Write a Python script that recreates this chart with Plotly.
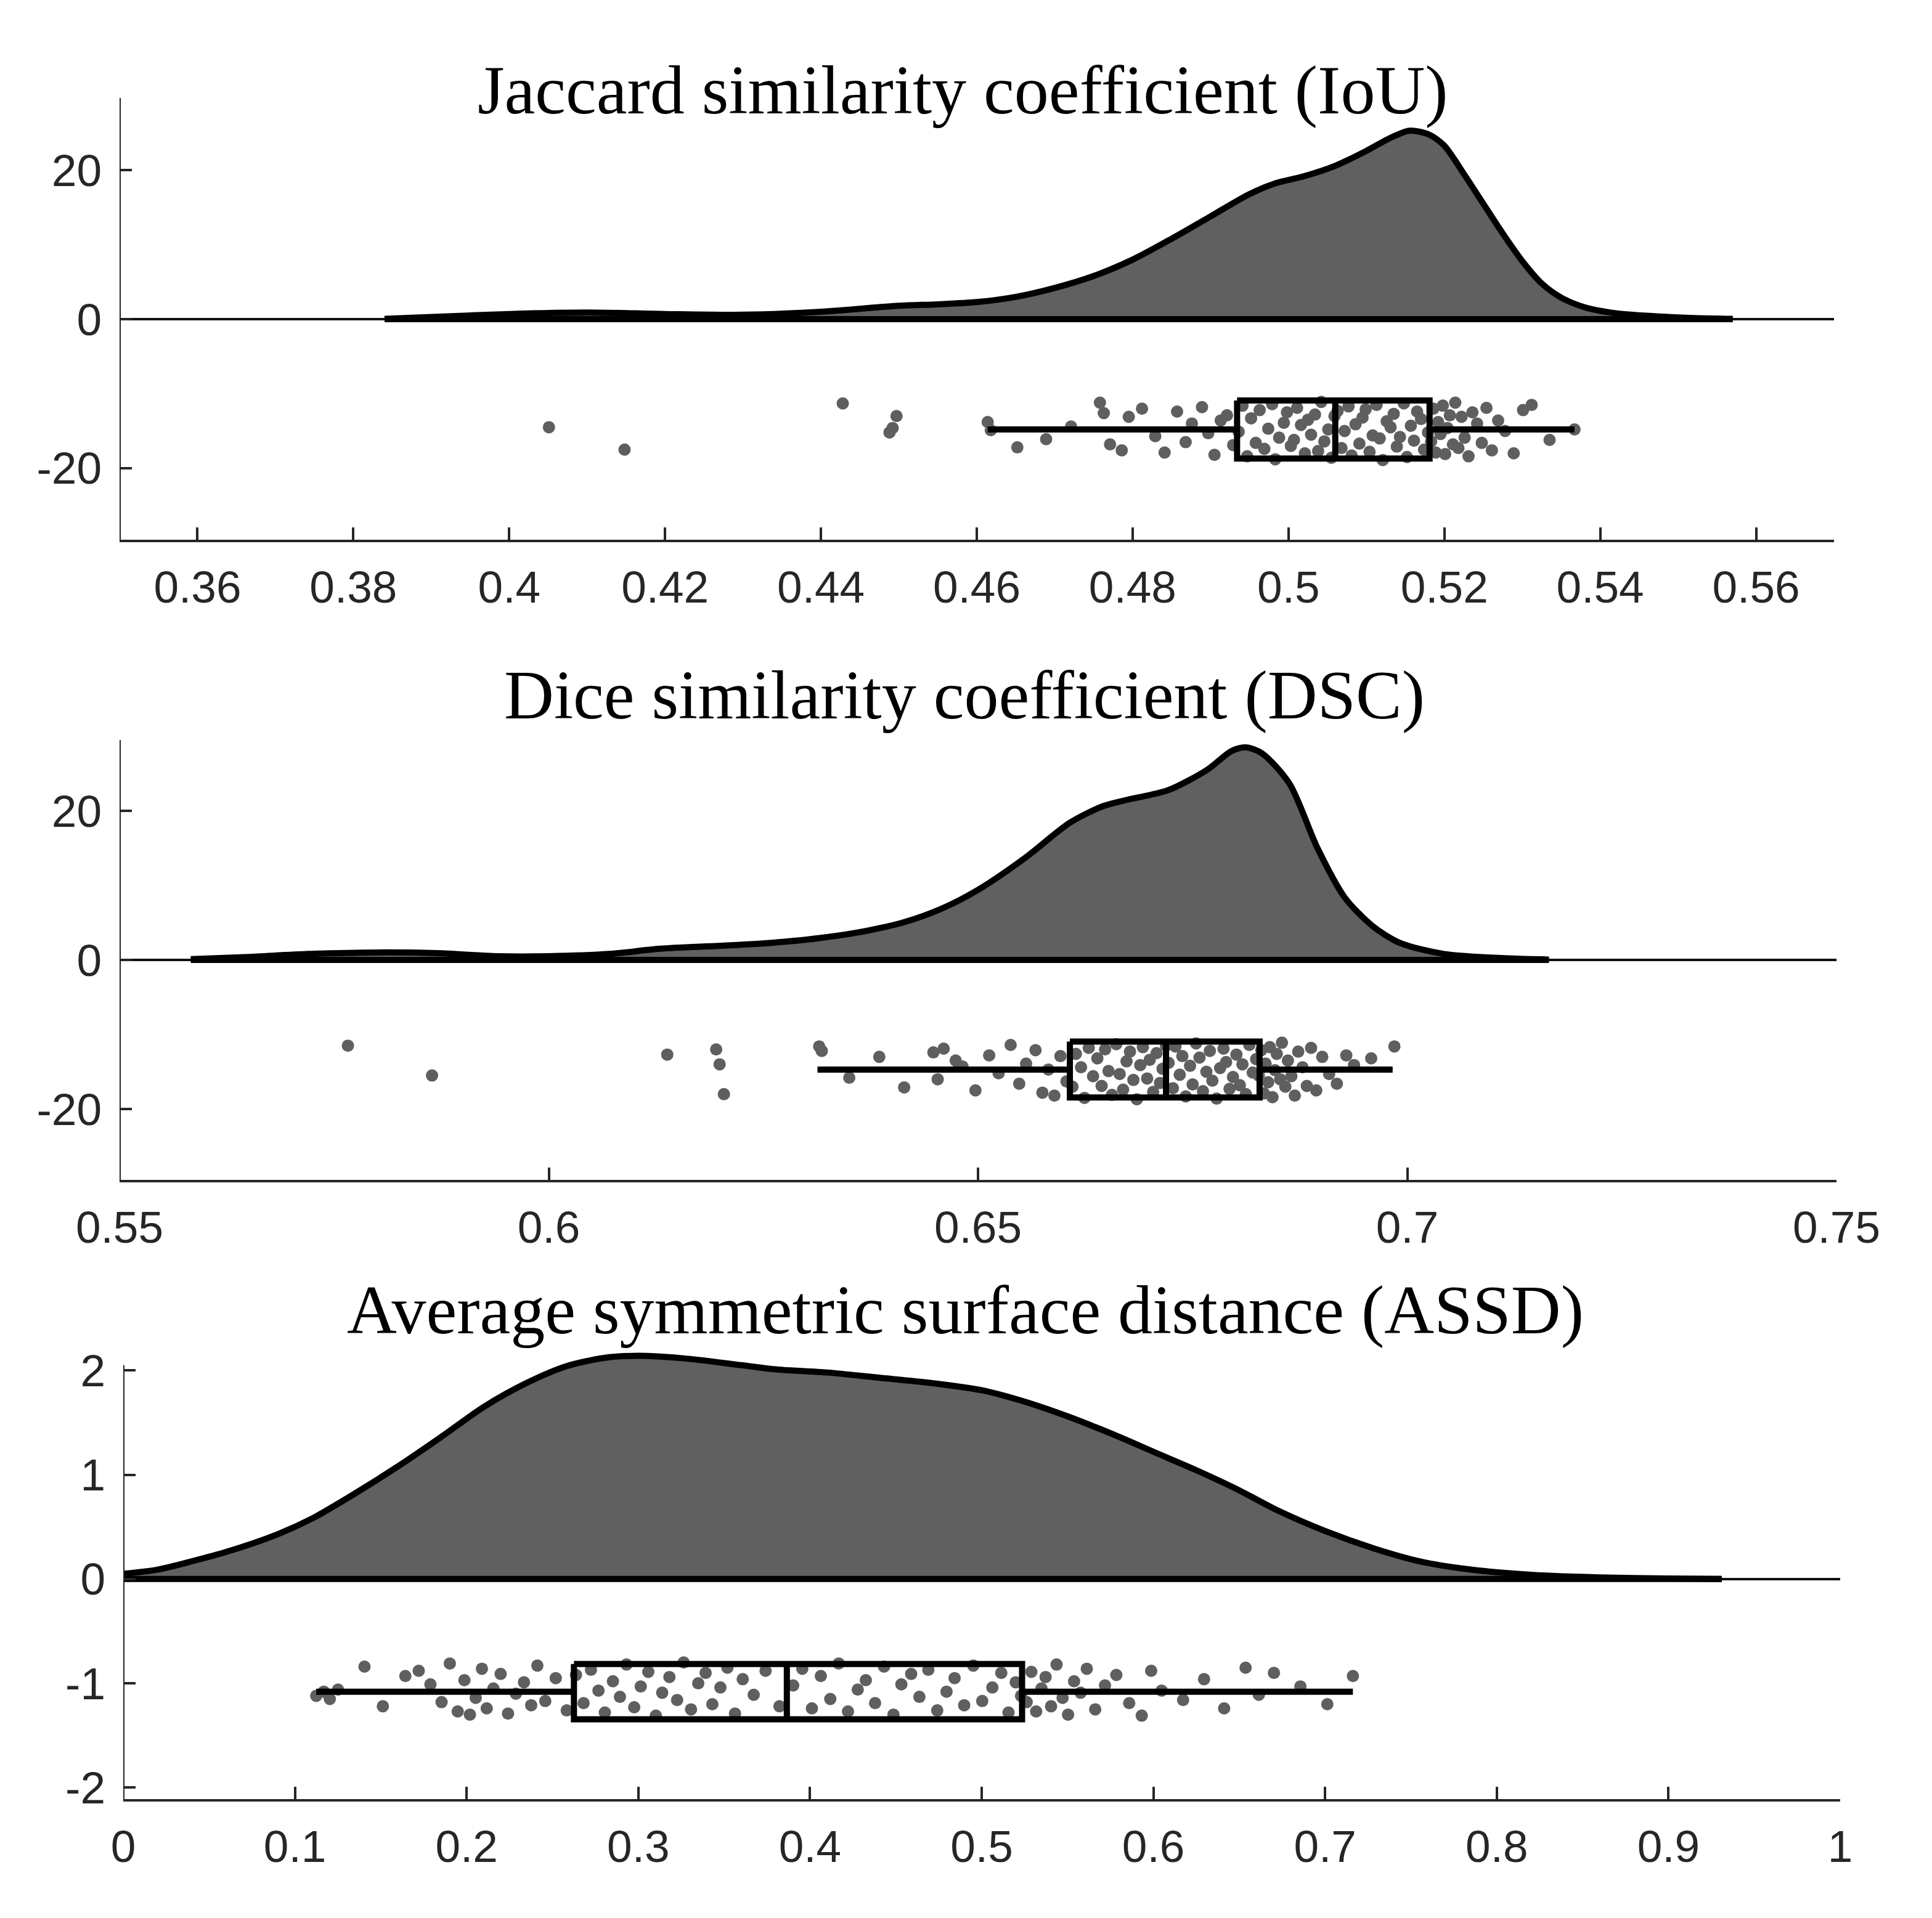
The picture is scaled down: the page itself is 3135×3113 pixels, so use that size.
import plotly.graph_objects as go

# ------------------------------------------------------------------ data
titles = ["Jaccard similarity coefficient (IoU)",
          "Dice similarity coefficient (DSC)",
          "Average symmetric surface distance (ASSD)"]

# x tick values / labels
iou_ticks = [0.36, 0.38, 0.40, 0.42, 0.44, 0.46, 0.48, 0.50, 0.52, 0.54, 0.56]
iou_ticktext = ["0.36", "0.38", "0.4", "0.42", "0.44", "0.46", "0.48", "0.5", "0.52", "0.54", "0.56"]
dsc_ticks = [0.55, 0.60, 0.65, 0.70, 0.75]
dsc_ticktext = ["0.55", "0.6", "0.65", "0.7", "0.75"]
assd_ticks = [0, 0.1, 0.2, 0.3, 0.4, 0.5, 0.6, 0.7, 0.8, 0.9, 1.0]
assd_ticktext = ["0", "0.1", "0.2", "0.3", "0.4", "0.5", "0.6", "0.7", "0.8", "0.9", "1"]
# y tick values / labels
big_yticks = [-20, 0, 20]
big_yticktext = ["-20", "0", "20"]
small_yticks = [-2, -1, 0, 1, 2]
small_yticktext = ["-2", "-1", "0", "1", "2"]

# density curves
iou_kde_x = [0.384, 0.390, 0.400, 0.410, 0.420, 0.430, 0.440, 0.450, 0.455, 0.460,
             0.465, 0.470, 0.475, 0.480, 0.485, 0.490, 0.495, 0.4985, 0.502, 0.506,
             0.510, 0.513, 0.5155, 0.518, 0.520, 0.5225, 0.525, 0.5275, 0.530, 0.5325,
             0.535, 0.538, 0.542, 0.547, 0.552, 0.557]
iou_kde_y = [0.05, 0.3, 0.7, 0.9, 0.7, 0.6, 1.0, 1.8, 2.0, 2.3,
             3.0, 4.2, 5.8, 8.0, 10.8, 13.8, 16.8, 18.3, 19.2, 20.6,
             22.6, 24.3, 25.3, 24.8, 23.3, 19.5, 15.5, 11.5, 7.8, 4.8,
             2.9, 1.6, 0.8, 0.4, 0.15, 0.05]

dsc_kde_x = [0.5583, 0.565, 0.572, 0.580, 0.587, 0.594, 0.600, 0.607, 0.613, 0.620,
             0.626, 0.632, 0.637, 0.6415, 0.646, 0.650, 0.6555, 0.6607, 0.6645, 0.6671,
             0.6722, 0.6767, 0.6795, 0.6812, 0.6831, 0.6863, 0.6895, 0.6927, 0.6959, 0.6991,
             0.7043, 0.712, 0.7165]
dsc_kde_y = [0.1, 0.4, 0.8, 1.0, 0.9, 0.5, 0.5, 0.8, 1.5, 1.9,
             2.3, 3.0, 3.9, 5.1, 7.0, 9.4, 13.7, 18.4, 20.6, 21.4,
             22.8, 25.5, 28.0, 28.5, 27.7, 23.6, 15.1, 8.4, 4.6, 2.3,
             0.8, 0.2, 0.05]

assd_kde_x = [0.0, 0.02, 0.04, 0.06, 0.09, 0.11, 0.133, 0.16, 0.185, 0.21,
              0.235, 0.258, 0.28, 0.30, 0.33, 0.36, 0.38, 0.41, 0.44, 0.47,
              0.50, 0.523, 0.55, 0.579, 0.60, 0.624, 0.65, 0.672, 0.70, 0.729,
              0.755, 0.785, 0.82, 0.86, 0.90, 0.931]
assd_kde_y = [0.05, 0.09, 0.17, 0.26, 0.43, 0.58, 0.80, 1.08, 1.36, 1.65,
              1.88, 2.04, 2.12, 2.14, 2.11, 2.05, 2.01, 1.98, 1.93, 1.88,
              1.81, 1.71, 1.56, 1.37, 1.22, 1.05, 0.85, 0.66, 0.46, 0.29,
              0.17, 0.09, 0.04, 0.015, 0.005, 0.0]

# individual observations (x) and their vertical jitter (y)
iou_points = [0.4051, 0.4148, 0.4428, 0.4488, 0.4492, 0.4497,
              0.4614, 0.4618, 0.4652, 0.4689, 0.4721, 0.4758, 0.4763, 0.4771, 0.4786, 0.4795,
              0.4812, 0.4829, 0.4841, 0.4857, 0.4868, 0.4876, 0.4889, 0.4897, 0.4905, 0.4913,
              0.4921, 0.4929,
              0.4936, 0.4941, 0.4947, 0.4952, 0.4958, 0.4963, 0.4969, 0.4974, 0.4979, 0.4983,
              0.4988, 0.4994, 0.4998, 0.5003, 0.5007, 0.5011, 0.5016, 0.5021, 0.5025, 0.5029,
              0.5034, 0.5038, 0.5042, 0.5046, 0.5051, 0.5055, 0.5059,
              0.5063, 0.5068, 0.5072, 0.5077, 0.5081, 0.5086, 0.5091, 0.5095, 0.5099, 0.5104,
              0.5108, 0.5113, 0.5117, 0.5121, 0.5126, 0.5131, 0.5135, 0.5139, 0.5143, 0.5148,
              0.5152, 0.5157, 0.5161, 0.5165, 0.5170, 0.5174, 0.5179,
              0.5183, 0.5186, 0.5189, 0.5192, 0.5195, 0.5198, 0.5201, 0.5204, 0.5207, 0.5211,
              0.5214, 0.5218, 0.5222, 0.5226, 0.5231, 0.5236, 0.5242, 0.5248, 0.5254, 0.5261,
              0.5269, 0.5278, 0.5289, 0.5301, 0.5312, 0.5335, 0.5367]
iou_jitter = [-14.5, -17.5, -11.3, -15.2, -14.6, -13.0,
              -13.8, -14.9, -17.2, -16.1, -14.4, -11.2, -12.6, -16.8, -17.6, -13.1,
              -12.0, -15.7, -17.9, -12.4, -16.5, -14.0, -11.8, -15.3, -18.2, -13.6,
              -12.9, -16.9,
              -15.1, -11.6, -18.4, -13.3, -16.6, -12.2, -17.4, -14.7, -11.4, -18.8,
              -15.9, -13.9, -12.5, -17.0, -16.2, -11.9, -14.2, -18.0, -13.5, -15.5,
              -12.8, -17.7, -11.1, -16.4, -14.8, -18.6, -13.0,
              -12.3, -17.3, -15.0, -11.7, -18.3, -14.1, -16.7, -13.2, -12.1, -17.8,
              -15.6, -11.5, -16.0, -18.9, -13.7, -14.5, -12.7, -17.1, -15.8, -11.3,
              -18.5, -14.3, -16.3, -12.4, -13.4, -17.5, -15.2,
              -16.4, -12.0, -17.9, -13.8, -15.4, -11.6, -18.1, -14.6, -12.9, -16.8,
              -11.2, -17.3, -13.1, -15.9, -18.4, -12.5, -14.0, -16.6, -11.9, -17.6,
              -13.6, -15.0, -18.0, -12.2, -11.5, -16.2, -14.8]

dsc_points = [0.5766, 0.5864, 0.6138, 0.6195, 0.6199, 0.6204,
              0.6315, 0.6318, 0.6350, 0.6385, 0.6414, 0.6448, 0.6453, 0.6460, 0.6474, 0.6482,
              0.6497, 0.6513, 0.6524, 0.6538, 0.6548, 0.6556, 0.6567, 0.6575, 0.6582, 0.6589,
              0.6596, 0.6603,
              0.6610, 0.6614, 0.6620, 0.6624, 0.6629, 0.6634, 0.6639, 0.6644, 0.6648, 0.6652,
              0.6656, 0.6661, 0.6665, 0.6669, 0.6673, 0.6677, 0.6681, 0.6685, 0.6689, 0.6692,
              0.6697, 0.6700, 0.6704, 0.6708, 0.6712, 0.6715, 0.6719,
              0.6722, 0.6727, 0.6730, 0.6735, 0.6738, 0.6742, 0.6747, 0.6750, 0.6754, 0.6758,
              0.6762, 0.6766, 0.6770, 0.6773, 0.6778, 0.6782, 0.6786, 0.6789, 0.6793, 0.6797,
              0.6801, 0.6805, 0.6808, 0.6812, 0.6816, 0.6820, 0.6824,
              0.6827, 0.6830, 0.6833, 0.6835, 0.6838, 0.6840, 0.6843, 0.6846, 0.6848, 0.6852,
              0.6854, 0.6858, 0.6861, 0.6865, 0.6869, 0.6873, 0.6878, 0.6883, 0.6888, 0.6894,
              0.6901, 0.6909, 0.6918, 0.6929, 0.6938, 0.6958, 0.6985]
dsc_jitter = [-11.5, -15.5, -12.7, -12.0, -14.0, -18.0,
              -11.6, -12.2, -15.8, -13.0, -17.1, -12.4, -16.0, -11.9, -13.5, -14.3,
              -17.5, -12.8, -15.2, -11.4, -16.6, -13.9, -12.1, -17.8, -14.7, -18.2,
              -12.9, -16.3,
              -17.0, -12.6, -14.4, -18.5, -11.8, -15.6, -13.2, -16.9, -12.0, -14.9,
              -18.1, -11.3, -15.3, -17.4, -13.6, -12.3, -16.1, -18.7, -14.1, -11.7,
              -15.9, -13.4, -17.7, -12.5, -16.5, -14.6, -11.5,
              -13.8, -17.2, -11.6, -15.4, -12.9, -18.3, -14.2, -16.7, -11.2, -13.1,
              -17.6, -15.0, -12.2, -16.2, -18.6, -14.5, -11.9, -13.7, -17.3, -15.7,
              -12.7, -16.8, -14.0, -18.0, -11.4, -15.1, -13.3,
              -15.5, -12.1, -17.9, -13.9, -16.4, -11.7, -18.4, -14.8, -12.6, -16.0,
              -11.1, -17.0, -13.5, -15.6, -18.2, -12.3, -14.4, -16.9, -11.8, -17.5,
              -13.0, -15.3, -16.6, -12.8, -14.1, -13.2, -11.6]

assd_points = [0.1124, 0.1168, 0.1203, 0.1251, 0.1405, 0.1512, 0.1643, 0.1721, 0.1789, 0.1854,
               0.1902, 0.1948, 0.1987, 0.2019, 0.2053, 0.2089, 0.2117, 0.2156, 0.2198, 0.2241,
               0.2287, 0.2334, 0.2376, 0.2412, 0.2458, 0.2519, 0.2583,
               0.2637, 0.2681, 0.2724, 0.2768, 0.2805, 0.2852, 0.2893, 0.2931, 0.2976, 0.3014,
               0.3058, 0.3102, 0.3139, 0.3181, 0.3226, 0.3264, 0.3307, 0.3349, 0.3392, 0.3431,
               0.3478, 0.3519, 0.3563, 0.3608, 0.3672, 0.3741, 0.3822,
               0.3902, 0.3955, 0.4011, 0.4063, 0.4118, 0.4167, 0.4221, 0.4278, 0.4325, 0.4379,
               0.4431, 0.4486, 0.4532, 0.4589, 0.4637, 0.4689, 0.4741, 0.4795, 0.4842, 0.4898,
               0.4951, 0.5003, 0.5062, 0.5114, 0.5156, 0.5198, 0.5229,
               0.5262, 0.5289, 0.5317, 0.5348, 0.5372, 0.5404, 0.5436, 0.5471, 0.5503, 0.5538,
               0.5576, 0.5612, 0.5661, 0.5718, 0.5784, 0.5859, 0.5932, 0.5987, 0.6048, 0.6173,
               0.6295, 0.6412, 0.6537, 0.6614, 0.6702, 0.6856, 0.7013, 0.7162]
assd_jitter = [-1.12, -1.08, -1.15, -1.06, -0.84, -1.22, -0.93, -0.88, -1.01, -1.18,
               -0.81, -1.27, -0.97, -1.30, -1.14, -0.86, -1.24, -1.05, -0.91, -1.29,
               -1.10, -0.99, -1.21, -0.83, -1.17, -0.95, -1.26,
               -0.92, -1.19, -0.87, -1.07, -1.28, -0.98, -1.13, -0.82, -1.23, -1.03,
               -0.89, -1.31, -1.09, -0.94, -1.16, -0.80, -1.25, -1.00, -0.90, -1.20,
               -1.04, -0.85, -1.29, -0.96, -1.11, -0.88, -1.22,
               -1.02, -0.86, -1.24, -0.93, -1.15, -0.81, -1.27, -1.06, -0.97, -1.19,
               -0.84, -1.30, -1.01, -0.91, -1.13, -0.87, -1.26, -1.08, -0.95, -1.21,
               -0.83, -1.17, -1.04, -0.90, -1.28, -0.99, -1.12,
               -1.18, -0.89, -1.27, -1.05, -0.94, -1.22, -0.82, -1.14, -1.30, -0.98,
               -1.09, -0.86, -1.25, -1.02, -0.92, -1.19, -1.31, -0.88, -1.07, -1.16,
               -0.96, -1.24, -0.85, -1.11, -0.90, -1.03, -1.20, -0.93]

# box-plot statistics: [lower whisker, Q1, median, Q3, upper whisker]
iou_box = [0.4614, 0.4934, 0.5060, 0.5181, 0.5367]
dsc_box = [0.6313, 0.6607, 0.6719, 0.6828, 0.6983]
assd_box = [0.1124, 0.2625, 0.3865, 0.5235, 0.7162]

# ------------------------------------------------------------------ layout constants
WIN_W, WIN_H = 3135, 3113
OFF = 8                      # default page margin around the plot div
W, H = WIN_W - 2 * OFF, WIN_H - 2 * OFF
FILL = "#606060"
DOT = "#5f5f5f"
AX = "#262626"
LW_CURVE = 10
LW_BOX = 10


def fx(px):
    return (px - OFF) / W


def fy(py):
    return 1 - (py - OFF) / H


panels = [
    dict(kx=iou_kde_x, ky=iou_kde_y, px=iou_points, py=iou_jitter, box=iou_box,
         box_c=-14.8, box_h=3.9, xr=[0.35, 0.57], yr=[-29.6, 29.7], ytop=29.7,
         xt=iou_ticks, xtt=iou_ticktext, yt=big_yticks, ytt=big_yticktext,
         xpix=(194, 2976), ypix=(159, 876), title_y=146, title_x=1562),
    dict(kx=dsc_kde_x, ky=dsc_kde_y, px=dsc_points, py=dsc_jitter, box=dsc_box,
         box_c=-14.7, box_h=3.75, xr=[0.55, 0.75], yr=[-29.5, 29.5], ytop=29.5,
         xt=dsc_ticks, xtt=dsc_ticktext, yt=big_yticks, ytt=big_yticktext,
         xpix=(194, 2980), ypix=(1201, 1915), title_y=1128, title_x=1565),
    # range reaches above the drawn axis line so the density peak is not clipped
    dict(kx=assd_kde_x, ky=assd_kde_y, px=assd_points, py=assd_jitter, box=assd_box,
         box_c=-1.08, box_h=0.265, xr=[0.0, 1.0], yr=[-2.11, 2.22], ytop=2.05,
         xt=assd_ticks, xtt=assd_ticktext, yt=small_yticks, ytt=small_yticktext,
         xpix=(200, 2986), ypix=(2187, 2920), title_y=2126, title_x=1566),
]

fig = go.Figure()
layout = dict(width=W, height=H, margin=dict(l=0, r=0, t=0, b=0, pad=0, autoexpand=False),
              paper_bgcolor="white", plot_bgcolor="white", showlegend=False,
              annotations=[], shapes=[])

for i, p in enumerate(panels):
    n = "" if i == 0 else str(i + 1)
    xa, ya = "x" + n, "y" + n
    # density (half violin)
    fig.add_trace(go.Scatter(x=p["kx"], y=p["ky"], xaxis=xa, yaxis=ya, mode="lines",
                             line=dict(color="black", width=LW_CURVE, shape="spline", smoothing=0.8),
                             fill="tozeroy", fillcolor=FILL, hoverinfo="skip"))
    fig.add_trace(go.Scatter(x=[p["kx"][0], p["kx"][-1]], y=[0, 0], xaxis=xa, yaxis=ya,
                             mode="lines", line=dict(color="black", width=LW_CURVE),
                             hoverinfo="skip"))
    # raw observations
    fig.add_trace(go.Scatter(x=p["px"], y=p["py"], xaxis=xa, yaxis=ya, mode="markers",
                             marker=dict(size=20, color=DOT, line=dict(width=0))))
    # box plot
    lo, q1, med, q3, hi = p["box"]
    c, h = p["box_c"], p["box_h"]
    fig.add_trace(go.Scatter(x=[lo, q1, None, q3, hi], y=[c, c, None, c, c],
                             xaxis=xa, yaxis=ya, mode="lines",
                             line=dict(color="black", width=LW_BOX), hoverinfo="skip"))
    fig.add_trace(go.Scatter(x=[q1, q3, q3, q1, q1, None, med, med],
                             y=[c + h, c + h, c - h, c - h, c + h, None, c + h, c - h],
                             xaxis=xa, yaxis=ya, mode="lines",
                             line=dict(color="black", width=LW_BOX), hoverinfo="skip"))

    common = dict(linecolor=AX, linewidth=4, ticks="inside", ticklen=20,
                  tickwidth=4, tickcolor=AX, showgrid=False, mirror=False, automargin=False,
                  tickfont=dict(family="Liberation Sans, Arial, sans-serif", size=73, color=AX))
    layout["xaxis" + n] = dict(common, showline=True,
                               domain=[fx(p["xpix"][0]), fx(p["xpix"][1])],
                               range=p["xr"], tickmode="array", tickvals=p["xt"],
                               ticktext=p["xtt"], anchor=ya, zeroline=False,
                               ticklabelstandoff=10)
    layout["yaxis" + n] = dict(common, showline=False,
                               domain=[fy(p["ypix"][1]), fy(p["ypix"][0])],
                               range=p["yr"], tickmode="array", tickvals=p["yt"],
                               ticktext=p["ytt"], anchor=xa, zeroline=True,
                               zerolinecolor="#111111", zerolinewidth=4,
                               ticklabelstandoff=28)
    # y-axis spine (drawn up to the top of the axes box)
    layout["shapes"].append(dict(type="line", xref=xa, yref=ya, x0=p["xr"][0], x1=p["xr"][0],
                                 y0=p["yr"][0], y1=p["ytop"], layer="above",
                                 line=dict(color=AX, width=4)))
    layout["annotations"].append(dict(text=titles[i], xref="paper", yref="paper",
                                      x=fx(p["title_x"]), y=fy(p["title_y"]),
                                      xanchor="center", yanchor="middle", showarrow=False,
                                      font=dict(family="Liberation Serif, Times New Roman, serif",
                                                size=112, color="black")))

fig.update_layout(**layout)
fig.write_html("out.html")
